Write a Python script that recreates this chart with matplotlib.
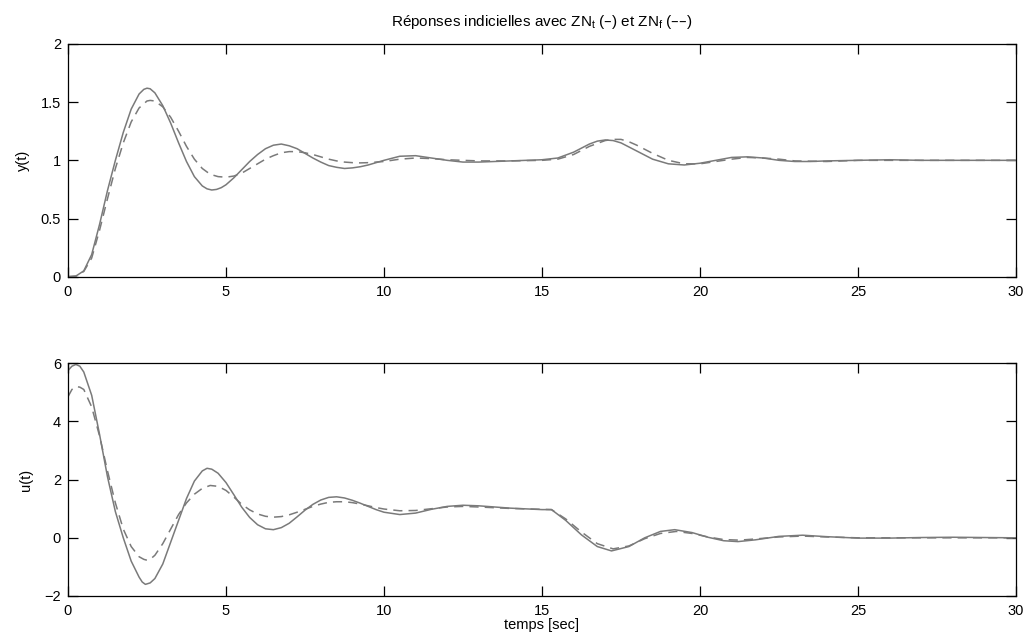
import matplotlib
matplotlib.use("Agg")
import matplotlib.pyplot as plt

plt.rcParams['font.family'] = ['Liberation Sans', 'DejaVu Sans']
plt.rcParams['mathtext.default'] = 'regular'

# --- y(t) data ---
t_y_solid = [0, 0.25, 0.5, 0.75, 1.0, 1.25, 1.5, 1.75, 2.0, 2.25, 2.4, 2.5, 2.6, 2.75, 3.0, 3.25, 3.5, 3.75,
             4.0, 4.25, 4.4, 4.55, 4.7, 4.85, 5.0, 5.25, 5.5, 5.75, 6.0, 6.25, 6.5, 6.75, 7.0, 7.25, 7.5, 7.75,
             8.0, 8.25, 8.5, 8.75, 9.0, 9.25, 9.5, 9.75, 10.0, 10.5,
             11.0, 11.5, 12.0, 12.5, 13.0, 14.0, 15.0, 15.5, 16.0, 16.5, 16.75, 17.0, 17.25, 17.5, 18.0, 18.5,
             19.0, 19.5, 20.0, 20.5, 21.0, 21.5, 22.0, 22.5, 23.0, 23.5, 24.0, 25.0, 26.0, 27.0, 30.0]
y_solid = [0, 0.005, 0.05, 0.19, 0.45, 0.74, 1.0, 1.24, 1.44, 1.57, 1.61, 1.62, 1.615, 1.58, 1.47, 1.32, 1.15, 0.99,
           0.86, 0.78, 0.755, 0.745, 0.75, 0.765, 0.79, 0.85, 0.92, 0.99, 1.05, 1.10, 1.13, 1.14, 1.125, 1.10, 1.06, 1.02,
           0.985, 0.955, 0.94, 0.93, 0.935, 0.945, 0.96, 0.98, 1.0, 1.035,
           1.04, 1.02, 1.0, 0.985, 0.985, 0.995, 1.005, 1.02, 1.07, 1.14, 1.165, 1.175, 1.17, 1.15, 1.08, 1.01,
           0.97, 0.96, 0.975, 1.0, 1.025, 1.03, 1.02, 1.0, 0.99, 0.99, 0.995, 1.0, 1.005, 1.0, 1.0]

t_y_dash = [0, 0.25, 0.5, 0.75, 1.0, 1.25, 1.5, 1.75, 2.0, 2.25, 2.5, 2.6, 2.75, 3.0, 3.25, 3.5, 3.75,
            4.0, 4.25, 4.5, 4.75, 5.0, 5.25, 5.5, 5.75, 6.0, 6.25, 6.5, 6.75, 7.0, 7.25, 7.5, 7.75,
            8.0, 8.25, 8.5, 8.75, 9.0, 9.25, 9.5, 9.75, 10.0, 10.5,
            11.0, 11.5, 12.0, 13.0, 14.0, 15.0, 15.5, 16.0, 16.5, 17.0, 17.25, 17.5, 17.75, 18.0, 18.5, 19.0,
            19.5, 20.0, 20.5, 21.0, 21.5, 22.0, 22.5, 23.0, 24.0, 25.0, 30.0]
y_dash = [0, 0.005, 0.045, 0.16, 0.4, 0.67, 0.93, 1.15, 1.33, 1.45, 1.51, 1.515, 1.51, 1.46, 1.37, 1.25, 1.12,
          1.01, 0.93, 0.88, 0.86, 0.855, 0.865, 0.89, 0.93, 0.97, 1.01, 1.04, 1.065, 1.075, 1.075, 1.065, 1.05,
          1.03, 1.01, 0.995, 0.985, 0.98, 0.978, 0.98, 0.985, 0.99, 1.01,
          1.02, 1.015, 1.005, 0.995, 0.995, 1.0, 1.01, 1.05, 1.12, 1.17, 1.18, 1.18, 1.16, 1.13, 1.06, 1.0,
          0.97, 0.97, 0.99, 1.01, 1.025, 1.02, 1.01, 0.995, 0.99, 1.0, 1.0]

# --- u(t) data ---
t_u_solid = [0, 0.125, 0.25, 0.375, 0.5, 0.75, 1.0, 1.25, 1.5, 1.75, 2.0, 2.25, 2.35, 2.45, 2.6, 2.75, 3.0, 3.25, 3.5, 3.75,
             4.0, 4.25, 4.4, 4.55, 4.75, 5.0, 5.25, 5.5, 5.75, 6.0, 6.25, 6.5, 6.75, 7.0, 7.25, 7.5, 7.75,
             8.0, 8.25, 8.5, 8.75, 9.0, 9.25, 9.5, 9.75, 10.0, 10.5,
             11.0, 11.5, 12.0, 12.5, 13.0, 14.0, 15.0, 15.3, 15.75, 16.25, 16.75, 17.2, 17.75, 18.25,
             18.75, 19.2, 19.75, 20.25, 20.75, 21.2, 21.75, 22.5, 23.25, 24.0, 25.0, 26.0, 27.0, 28.0, 30.0]
u_solid = [5.75, 5.9, 5.96, 5.9, 5.7, 4.9, 3.55, 2.1, 0.9, 0.0, -0.8, -1.35, -1.52, -1.6, -1.55, -1.4, -0.9, -0.15, 0.6, 1.35,
           1.95, 2.3, 2.39, 2.36, 2.22, 1.9, 1.48, 1.05, 0.7, 0.45, 0.31, 0.28, 0.35, 0.5, 0.72, 0.95, 1.15,
           1.3, 1.39, 1.41, 1.37, 1.29, 1.19, 1.08, 0.97, 0.88, 0.8,
           0.85, 0.98, 1.08, 1.12, 1.1, 1.02, 0.97, 0.97, 0.6, 0.1, -0.3, -0.45, -0.3, 0.0,
           0.22, 0.28, 0.18, 0.02, -0.1, -0.13, -0.07, 0.05, 0.09, 0.04, -0.01, -0.01, 0.01, 0.02, 0.0]

t_u_dash = [0, 0.125, 0.25, 0.375, 0.5, 0.75, 1.0, 1.25, 1.5, 1.75, 2.0, 2.25, 2.4, 2.5, 2.6, 2.75, 3.0, 3.25, 3.5, 3.75,
            4.0, 4.25, 4.5, 4.75, 5.0, 5.25, 5.5, 5.75, 6.0, 6.25, 6.5, 6.75, 7.0, 7.25, 7.5, 7.75,
            8.0, 8.25, 8.5, 8.75, 9.0, 9.25, 9.5, 9.75, 10.0, 10.5,
            11.0, 11.5, 12.0, 12.5, 13.0, 14.0, 15.0, 15.3, 15.75, 16.25, 16.75, 17.25, 17.75, 18.25,
            18.75, 19.25, 19.75, 20.25, 20.75, 21.25, 21.75, 22.5, 23.25, 24.0, 25.0, 30.0]
u_dash = [4.85, 5.1, 5.2, 5.18, 5.1, 4.5, 3.5, 2.3, 1.2, 0.3, -0.3, -0.65, -0.74, -0.77, -0.74, -0.6, -0.2, 0.3, 0.8, 1.2,
          1.5, 1.7, 1.8, 1.77, 1.63, 1.4, 1.15, 0.96, 0.82, 0.74, 0.71, 0.73, 0.79, 0.88, 0.98, 1.08,
          1.16, 1.22, 1.24, 1.24, 1.21, 1.16, 1.1, 1.04, 0.99, 0.93,
          0.94, 1.0, 1.06, 1.08, 1.06, 1.01, 0.98, 0.97, 0.65, 0.2, -0.2, -0.38, -0.28, -0.03,
          0.15, 0.22, 0.15, 0.03, -0.06, -0.08, -0.04, 0.03, 0.06, 0.03, 0.0, 0.0]

x_ticks = [0, 5, 10, 15, 20, 25, 30]
y_ticks_top = [0, 0.5, 1, 1.5, 2]
y_ticklabels_top = ['0', '0.5', '1', '1.5', '2']
y_ticks_bot = [-2, 0, 2, 4, 6]
y_ticklabels_bot = ['\u22122', '0', '2', '4', '6']

fig = plt.figure(figsize=(10.30, 6.43), dpi=100)
ax1 = fig.add_axes([0.066, 0.5697, 0.9204, 0.3619])
ax2 = fig.add_axes([0.066, 0.0731, 0.9204, 0.3619])

line_color = '#7a7a7a'
for ax in (ax1, ax2):
    ax.tick_params(direction='in', length=7.5, width=0.9, top=True, right=True,
                   labelsize=10.5, colors='black')
    ax.tick_params(axis='x', pad=6)
    ax.tick_params(axis='y', pad=5)
    for s in ax.spines.values():
        s.set_linewidth(0.9)
    ax.set_xlim(0, 30)
    ax.set_xticks(x_ticks)

ax1.plot(t_y_solid, y_solid, color=line_color, lw=1.1)
ax1.plot(t_y_dash, y_dash, color=line_color, lw=1.1, ls=(0, (6, 4)))
ax1.set_ylim(0, 2)
ax1.set_yticks(y_ticks_top)
ax1.set_yticklabels(y_ticklabels_top)
ax1.set_ylabel('y(t)', fontsize=10.5, labelpad=8)
ax1.set_title('Réponses indicielles avec ZN$_t$ (–) et ZN$_f$ (––)', fontsize=11, pad=13)

ax2.plot(t_u_solid, u_solid, color=line_color, lw=1.1)
ax2.plot(t_u_dash, u_dash, color=line_color, lw=1.1, ls=(0, (6, 4)))
ax2.set_ylim(-2, 6)
ax2.set_yticks(y_ticks_bot)
ax2.set_yticklabels(y_ticklabels_bot)
ax2.set_ylabel('u(t)', fontsize=10.5, labelpad=8)
ax2.set_xlabel('temps [sec]', fontsize=10.5, labelpad=0)

fig.savefig('out.png', dpi=100)
